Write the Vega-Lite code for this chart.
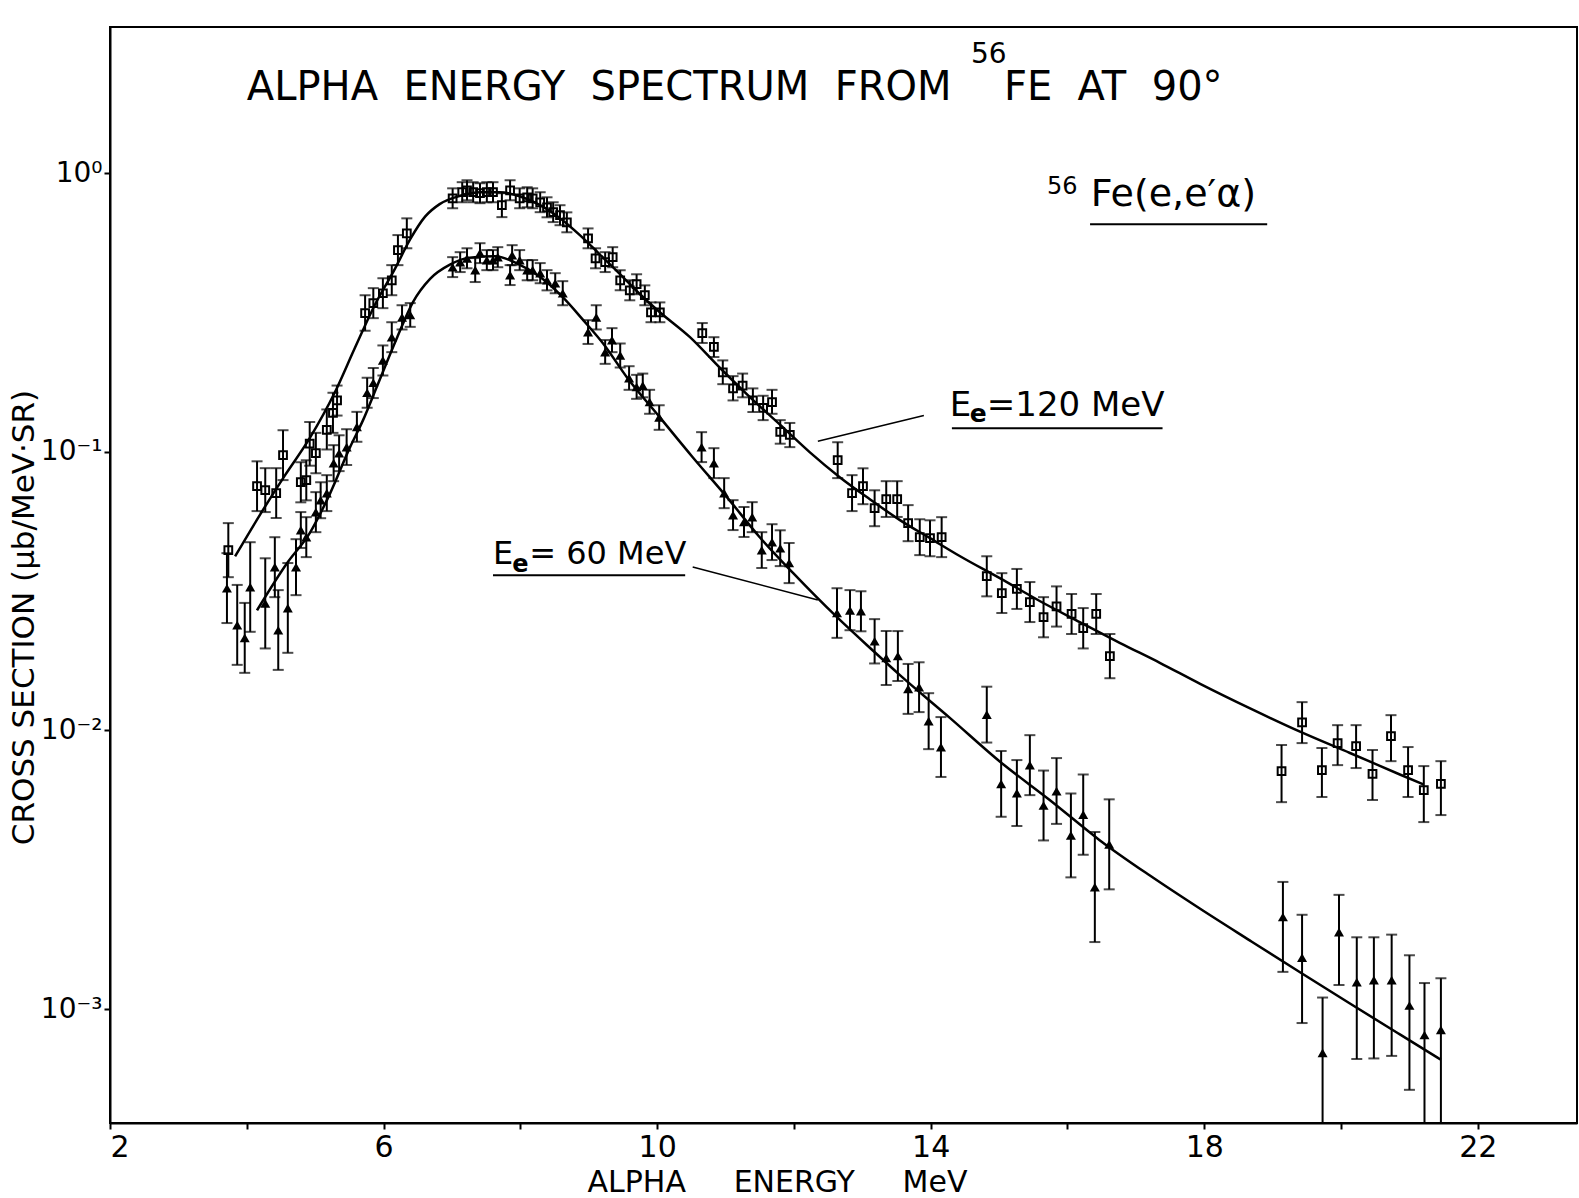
{
  "$schema": "https://vega.github.io/schema/vega-lite/v6.json",
  "width": 1467,
  "height": 1096,
  "autosize": {"type": "none"},
  "padding": {"left": 110, "top": 27, "right": 2, "bottom": 75},
  "background": "white",
  "config": {
    "view": {"stroke": "black", "strokeWidth": 2},
    "font": "DejaVu Sans",
    "axis": {"domainColor": "black", "domainWidth": 2, "tickColor": "black", "tickWidth": 2, "grid": false, "labelColor": "black", "titleColor": "black", "labelFont": "DejaVu Sans", "titleFont": "DejaVu Sans", "titleFontWeight": "normal"}
  },
  "datasets": {
    "pts": [
      {"beam":"120","E":3.73,"xs":0.0444,"lo":0.0355,"hi":0.0555},
      {"beam":"120","E":4.15,"xs":0.0753,"lo":0.0613,"hi":0.0925},
      {"beam":"120","E":4.27,"xs":0.0729,"lo":0.0608,"hi":0.0874},
      {"beam":"120","E":4.43,"xs":0.0711,"lo":0.0579,"hi":0.0874},
      {"beam":"120","E":4.53,"xs":0.0973,"lo":0.0792,"hi":0.1196},
      {"beam":"120","E":4.79,"xs":0.0778,"lo":0.0659,"hi":0.0918},
      {"beam":"120","E":4.87,"xs":0.0791,"lo":0.067,"hi":0.0933},
      {"beam":"120","E":4.92,"xs":0.107,"lo":0.0892,"hi":0.128},
      {"beam":"120","E":5.01,"xs":0.0989,"lo":0.0838,"hi":0.117},
      {"beam":"120","E":5.17,"xs":0.12,"lo":0.102,"hi":0.142},
      {"beam":"120","E":5.26,"xs":0.138,"lo":0.117,"hi":0.163},
      {"beam":"120","E":5.32,"xs":0.153,"lo":0.135,"hi":0.173},
      {"beam":"120","E":5.73,"xs":0.315,"lo":0.272,"hi":0.365},
      {"beam":"120","E":5.85,"xs":0.342,"lo":0.302,"hi":0.387},
      {"beam":"120","E":5.99,"xs":0.371,"lo":0.328,"hi":0.42},
      {"beam":"120","E":6.12,"xs":0.413,"lo":0.365,"hi":0.468},
      {"beam":"120","E":6.21,"xs":0.53,"lo":0.468,"hi":0.6},
      {"beam":"120","E":6.34,"xs":0.609,"lo":0.538,"hi":0.689},
      {"beam":"120","E":7.01,"xs":0.813,"lo":0.749,"hi":0.883},
      {"beam":"120","E":7.15,"xs":0.855,"lo":0.787,"hi":0.929},
      {"beam":"120","E":7.22,"xs":0.869,"lo":0.8,"hi":0.944},
      {"beam":"120","E":7.31,"xs":0.855,"lo":0.787,"hi":0.929},
      {"beam":"120","E":7.41,"xs":0.848,"lo":0.781,"hi":0.921},
      {"beam":"120","E":7.51,"xs":0.855,"lo":0.787,"hi":0.929},
      {"beam":"120","E":7.6,"xs":0.855,"lo":0.787,"hi":0.929},
      {"beam":"120","E":7.73,"xs":0.768,"lo":0.696,"hi":0.848},
      {"beam":"120","E":7.85,"xs":0.869,"lo":0.8,"hi":0.944},
      {"beam":"120","E":7.99,"xs":0.813,"lo":0.749,"hi":0.883},
      {"beam":"120","E":8.1,"xs":0.82,"lo":0.755,"hi":0.891},
      {"beam":"120","E":8.18,"xs":0.813,"lo":0.749,"hi":0.883},
      {"beam":"120","E":8.29,"xs":0.787,"lo":0.725,"hi":0.855},
      {"beam":"120","E":8.39,"xs":0.755,"lo":0.695,"hi":0.82},
      {"beam":"120","E":8.48,"xs":0.725,"lo":0.668,"hi":0.787},
      {"beam":"120","E":8.58,"xs":0.707,"lo":0.651,"hi":0.768},
      {"beam":"120","E":8.68,"xs":0.667,"lo":0.614,"hi":0.724},
      {"beam":"120","E":8.99,"xs":0.584,"lo":0.538,"hi":0.634},
      {"beam":"120","E":9.1,"xs":0.495,"lo":0.456,"hi":0.538},
      {"beam":"120","E":9.24,"xs":0.48,"lo":0.442,"hi":0.521},
      {"beam":"120","E":9.35,"xs":0.5,"lo":0.46,"hi":0.543},
      {"beam":"120","E":9.46,"xs":0.413,"lo":0.38,"hi":0.449},
      {"beam":"120","E":9.6,"xs":0.38,"lo":0.35,"hi":0.413},
      {"beam":"120","E":9.7,"xs":0.4,"lo":0.368,"hi":0.434},
      {"beam":"120","E":9.82,"xs":0.365,"lo":0.336,"hi":0.396},
      {"beam":"120","E":9.91,"xs":0.317,"lo":0.292,"hi":0.344},
      {"beam":"120","E":10.04,"xs":0.317,"lo":0.292,"hi":0.344},
      {"beam":"120","E":10.66,"xs":0.267,"lo":0.246,"hi":0.29},
      {"beam":"120","E":10.83,"xs":0.238,"lo":0.219,"hi":0.258},
      {"beam":"120","E":10.96,"xs":0.193,"lo":0.175,"hi":0.213},
      {"beam":"120","E":11.11,"xs":0.169,"lo":0.153,"hi":0.187},
      {"beam":"120","E":11.25,"xs":0.173,"lo":0.157,"hi":0.191},
      {"beam":"120","E":11.4,"xs":0.153,"lo":0.139,"hi":0.169},
      {"beam":"120","E":11.55,"xs":0.144,"lo":0.13,"hi":0.159},
      {"beam":"120","E":11.68,"xs":0.151,"lo":0.137,"hi":0.167},
      {"beam":"120","E":11.8,"xs":0.118,"lo":0.107,"hi":0.13},
      {"beam":"120","E":11.94,"xs":0.115,"lo":0.104,"hi":0.127},
      {"beam":"120","E":12.64,"xs":0.0934,"lo":0.0805,"hi":0.1083},
      {"beam":"120","E":12.85,"xs":0.0711,"lo":0.0613,"hi":0.0825},
      {"beam":"120","E":13.01,"xs":0.0753,"lo":0.0649,"hi":0.0873},
      {"beam":"120","E":13.18,"xs":0.0628,"lo":0.0541,"hi":0.0728},
      {"beam":"120","E":13.35,"xs":0.0677,"lo":0.0584,"hi":0.0785},
      {"beam":"120","E":13.51,"xs":0.0677,"lo":0.0584,"hi":0.0785},
      {"beam":"120","E":13.67,"xs":0.0555,"lo":0.0478,"hi":0.0644},
      {"beam":"120","E":13.84,"xs":0.0494,"lo":0.0426,"hi":0.0573},
      {"beam":"120","E":13.99,"xs":0.049,"lo":0.0422,"hi":0.0568},
      {"beam":"120","E":14.16,"xs":0.0494,"lo":0.0419,"hi":0.0583},
      {"beam":"120","E":14.82,"xs":0.0358,"lo":0.0303,"hi":0.0422},
      {"beam":"120","E":15.04,"xs":0.0311,"lo":0.0264,"hi":0.0367},
      {"beam":"120","E":15.26,"xs":0.0322,"lo":0.0273,"hi":0.038},
      {"beam":"120","E":15.45,"xs":0.0289,"lo":0.0245,"hi":0.0341},
      {"beam":"120","E":15.65,"xs":0.0255,"lo":0.0216,"hi":0.0301},
      {"beam":"120","E":15.84,"xs":0.0279,"lo":0.0236,"hi":0.0329},
      {"beam":"120","E":16.06,"xs":0.0262,"lo":0.0222,"hi":0.0309},
      {"beam":"120","E":16.23,"xs":0.0233,"lo":0.0197,"hi":0.0275},
      {"beam":"120","E":16.42,"xs":0.0262,"lo":0.0222,"hi":0.0309},
      {"beam":"120","E":16.62,"xs":0.0185,"lo":0.0154,"hi":0.0222},
      {"beam":"120","E":19.13,"xs":0.00715,"lo":0.00553,"hi":0.00887},
      {"beam":"120","E":19.43,"xs":0.0107,"lo":0.00901,"hi":0.01264},
      {"beam":"120","E":19.72,"xs":0.00721,"lo":0.00577,"hi":0.00865},
      {"beam":"120","E":19.95,"xs":0.00901,"lo":0.00751,"hi":0.01045},
      {"beam":"120","E":20.22,"xs":0.00879,"lo":0.00733,"hi":0.01045},
      {"beam":"120","E":20.46,"xs":0.00698,"lo":0.00563,"hi":0.00851},
      {"beam":"120","E":20.73,"xs":0.00955,"lo":0.00776,"hi":0.01135},
      {"beam":"120","E":20.98,"xs":0.00721,"lo":0.00577,"hi":0.00872},
      {"beam":"120","E":21.21,"xs":0.00611,"lo":0.00469,"hi":0.00745},
      {"beam":"120","E":21.46,"xs":0.00643,"lo":0.00497,"hi":0.00776},
      {"beam":"60","E":3.71,"xs":0.0324,"lo":0.0243,"hi":0.0433},
      {"beam":"60","E":3.86,"xs":0.0239,"lo":0.0172,"hi":0.0333},
      {"beam":"60","E":3.97,"xs":0.0215,"lo":0.0161,"hi":0.0287},
      {"beam":"60","E":4.05,"xs":0.0327,"lo":0.0226,"hi":0.0474},
      {"beam":"60","E":4.27,"xs":0.0286,"lo":0.0197,"hi":0.0415},
      {"beam":"60","E":4.41,"xs":0.0386,"lo":0.0301,"hi":0.0494},
      {"beam":"60","E":4.46,"xs":0.0229,"lo":0.0165,"hi":0.0319},
      {"beam":"60","E":4.6,"xs":0.0275,"lo":0.019,"hi":0.0399},
      {"beam":"60","E":4.72,"xs":0.0386,"lo":0.0306,"hi":0.0486},
      {"beam":"60","E":4.79,"xs":0.0524,"lo":0.0452,"hi":0.0608},
      {"beam":"60","E":4.87,"xs":0.0494,"lo":0.0419,"hi":0.0583},
      {"beam":"60","E":5.01,"xs":0.0608,"lo":0.0515,"hi":0.0717},
      {"beam":"60","E":5.08,"xs":0.0671,"lo":0.0578,"hi":0.0778},
      {"beam":"60","E":5.17,"xs":0.0711,"lo":0.0613,"hi":0.0825},
      {"beam":"60","E":5.27,"xs":0.0911,"lo":0.0785,"hi":0.1057},
      {"beam":"60","E":5.35,"xs":0.0989,"lo":0.0853,"hi":0.1147},
      {"beam":"60","E":5.46,"xs":0.104,"lo":0.0897,"hi":0.1206},
      {"beam":"60","E":5.61,"xs":0.123,"lo":0.1087,"hi":0.1392},
      {"beam":"60","E":5.76,"xs":0.163,"lo":0.144,"hi":0.1845},
      {"beam":"60","E":5.85,"xs":0.177,"lo":0.156,"hi":0.2},
      {"beam":"60","E":5.99,"xs":0.213,"lo":0.188,"hi":0.241},
      {"beam":"60","E":6.12,"xs":0.258,"lo":0.228,"hi":0.292},
      {"beam":"60","E":6.27,"xs":0.304,"lo":0.275,"hi":0.336},
      {"beam":"60","E":6.39,"xs":0.31,"lo":0.281,"hi":0.342},
      {"beam":"60","E":7.01,"xs":0.46,"lo":0.424,"hi":0.5},
      {"beam":"60","E":7.12,"xs":0.48,"lo":0.442,"hi":0.521},
      {"beam":"60","E":7.22,"xs":0.495,"lo":0.456,"hi":0.538},
      {"beam":"60","E":7.34,"xs":0.449,"lo":0.407,"hi":0.496},
      {"beam":"60","E":7.41,"xs":0.517,"lo":0.476,"hi":0.561},
      {"beam":"60","E":7.51,"xs":0.488,"lo":0.449,"hi":0.53},
      {"beam":"60","E":7.6,"xs":0.488,"lo":0.449,"hi":0.53},
      {"beam":"60","E":7.67,"xs":0.5,"lo":0.46,"hi":0.543},
      {"beam":"60","E":7.85,"xs":0.431,"lo":0.397,"hi":0.468},
      {"beam":"60","E":7.88,"xs":0.508,"lo":0.468,"hi":0.552},
      {"beam":"60","E":7.99,"xs":0.488,"lo":0.449,"hi":0.53},
      {"beam":"60","E":8.1,"xs":0.449,"lo":0.413,"hi":0.488},
      {"beam":"60","E":8.18,"xs":0.449,"lo":0.413,"hi":0.488},
      {"beam":"60","E":8.29,"xs":0.438,"lo":0.403,"hi":0.476},
      {"beam":"60","E":8.39,"xs":0.413,"lo":0.38,"hi":0.449},
      {"beam":"60","E":8.51,"xs":0.403,"lo":0.371,"hi":0.438},
      {"beam":"60","E":8.62,"xs":0.371,"lo":0.336,"hi":0.41},
      {"beam":"60","E":8.99,"xs":0.269,"lo":0.244,"hi":0.297},
      {"beam":"60","E":9.11,"xs":0.304,"lo":0.275,"hi":0.336},
      {"beam":"60","E":9.24,"xs":0.228,"lo":0.207,"hi":0.252},
      {"beam":"60","E":9.34,"xs":0.252,"lo":0.228,"hi":0.278},
      {"beam":"60","E":9.46,"xs":0.222,"lo":0.201,"hi":0.245},
      {"beam":"60","E":9.59,"xs":0.184,"lo":0.167,"hi":0.203},
      {"beam":"60","E":9.7,"xs":0.171,"lo":0.155,"hi":0.189},
      {"beam":"60","E":9.79,"xs":0.173,"lo":0.157,"hi":0.191},
      {"beam":"60","E":9.89,"xs":0.151,"lo":0.137,"hi":0.167},
      {"beam":"60","E":10.03,"xs":0.133,"lo":0.12,"hi":0.147},
      {"beam":"60","E":10.65,"xs":0.104,"lo":0.0919,"hi":0.1177},
      {"beam":"60","E":10.83,"xs":0.0911,"lo":0.0805,"hi":0.1031},
      {"beam":"60","E":10.98,"xs":0.0711,"lo":0.0628,"hi":0.0805},
      {"beam":"60","E":11.11,"xs":0.0593,"lo":0.0524,"hi":0.0671},
      {"beam":"60","E":11.27,"xs":0.056,"lo":0.0495,"hi":0.0634},
      {"beam":"60","E":11.39,"xs":0.0583,"lo":0.0515,"hi":0.066},
      {"beam":"60","E":11.53,"xs":0.0444,"lo":0.0383,"hi":0.0515},
      {"beam":"60","E":11.68,"xs":0.0474,"lo":0.0409,"hi":0.055},
      {"beam":"60","E":11.8,"xs":0.0451,"lo":0.0389,"hi":0.0523},
      {"beam":"60","E":11.93,"xs":0.0399,"lo":0.0338,"hi":0.0471},
      {"beam":"60","E":12.63,"xs":0.0264,"lo":0.0215,"hi":0.0324},
      {"beam":"60","E":12.82,"xs":0.027,"lo":0.0229,"hi":0.0319},
      {"beam":"60","E":12.98,"xs":0.0268,"lo":0.0227,"hi":0.0316},
      {"beam":"60","E":13.18,"xs":0.0209,"lo":0.0174,"hi":0.0251},
      {"beam":"60","E":13.35,"xs":0.0182,"lo":0.01456,"hi":0.02275},
      {"beam":"60","E":13.52,"xs":0.0185,"lo":0.01505,"hi":0.02274},
      {"beam":"60","E":13.67,"xs":0.0141,"lo":0.01147,"hi":0.01733},
      {"beam":"60","E":13.83,"xs":0.0143,"lo":0.01164,"hi":0.01757},
      {"beam":"60","E":13.97,"xs":0.0108,"lo":0.00857,"hi":0.01361},
      {"beam":"60","E":14.15,"xs":0.00872,"lo":0.00681,"hi":0.01117},
      {"beam":"60","E":14.82,"xs":0.0114,"lo":0.00905,"hi":0.01436},
      {"beam":"60","E":15.03,"xs":0.00643,"lo":0.0049,"hi":0.00844},
      {"beam":"60","E":15.26,"xs":0.00596,"lo":0.00454,"hi":0.00783},
      {"beam":"60","E":15.45,"xs":0.00751,"lo":0.00586,"hi":0.00962},
      {"beam":"60","E":15.65,"xs":0.00538,"lo":0.00403,"hi":0.00718},
      {"beam":"60","E":15.84,"xs":0.00606,"lo":0.00462,"hi":0.00796},
      {"beam":"60","E":16.05,"xs":0.0042,"lo":0.00297,"hi":0.00594},
      {"beam":"60","E":16.23,"xs":0.00499,"lo":0.00358,"hi":0.00695},
      {"beam":"60","E":16.4,"xs":0.00274,"lo":0.00174,"hi":0.00432},
      {"beam":"60","E":16.61,"xs":0.0039,"lo":0.00269,"hi":0.00566},
      {"beam":"60","E":19.15,"xs":0.00214,"lo":0.00136,"hi":0.00286},
      {"beam":"60","E":19.43,"xs":0.00153,"lo":0.000891,"hi":0.00218},
      {"beam":"60","E":19.73,"xs":0.000696,"lo":0.0003,"hi":0.0011},
      {"beam":"60","E":19.97,"xs":0.00189,"lo":0.00122,"hi":0.00257},
      {"beam":"60","E":20.23,"xs":0.00125,"lo":0.000662,"hi":0.00181},
      {"beam":"60","E":20.48,"xs":0.00127,"lo":0.000665,"hi":0.00181},
      {"beam":"60","E":20.74,"xs":0.00127,"lo":0.000679,"hi":0.00185},
      {"beam":"60","E":21.0,"xs":0.00103,"lo":0.000513,"hi":0.00156},
      {"beam":"60","E":21.22,"xs":0.000807,"lo":0.0003,"hi":0.00124},
      {"beam":"60","E":21.46,"xs":0.000842,"lo":0.0003,"hi":0.00129}
    ],
    "curves": [
      {"beam":"120","E":3.83,"xs":0.0422},
      {"beam":"120","E":4.19,"xs":0.0593},
      {"beam":"120","E":4.56,"xs":0.0825},
      {"beam":"120","E":4.92,"xs":0.112},
      {"beam":"120","E":5.29,"xs":0.164},
      {"beam":"120","E":5.58,"xs":0.236},
      {"beam":"120","E":5.87,"xs":0.336},
      {"beam":"120","E":6.17,"xs":0.456},
      {"beam":"120","E":6.39,"xs":0.58},
      {"beam":"120","E":6.61,"xs":0.7},
      {"beam":"120","E":6.82,"xs":0.775},
      {"beam":"120","E":7.12,"xs":0.83},
      {"beam":"120","E":7.41,"xs":0.855},
      {"beam":"120","E":7.7,"xs":0.855},
      {"beam":"120","E":7.99,"xs":0.827},
      {"beam":"120","E":8.29,"xs":0.768},
      {"beam":"120","E":8.58,"xs":0.69},
      {"beam":"120","E":8.87,"xs":0.6},
      {"beam":"120","E":9.16,"xs":0.512},
      {"beam":"120","E":9.46,"xs":0.434},
      {"beam":"120","E":9.75,"xs":0.368},
      {"beam":"120","E":10.04,"xs":0.317},
      {"beam":"120","E":10.48,"xs":0.258},
      {"beam":"120","E":10.92,"xs":0.2},
      {"beam":"120","E":11.36,"xs":0.157},
      {"beam":"120","E":11.8,"xs":0.125},
      {"beam":"120","E":12.23,"xs":0.0998},
      {"beam":"120","E":12.67,"xs":0.0811},
      {"beam":"120","E":13.11,"xs":0.0676},
      {"beam":"120","E":13.55,"xs":0.0569},
      {"beam":"120","E":13.99,"xs":0.049},
      {"beam":"120","E":14.43,"xs":0.0422},
      {"beam":"120","E":15.01,"xs":0.0352},
      {"beam":"120","E":15.6,"xs":0.0291},
      {"beam":"120","E":16.18,"xs":0.0245},
      {"beam":"120","E":16.77,"xs":0.0206},
      {"beam":"120","E":17.35,"xs":0.0175},
      {"beam":"120","E":17.94,"xs":0.0147},
      {"beam":"120","E":18.67,"xs":0.012},
      {"beam":"120","E":19.4,"xs":0.0099},
      {"beam":"120","E":20.13,"xs":0.0083},
      {"beam":"120","E":20.86,"xs":0.00695},
      {"beam":"120","E":21.21,"xs":0.0064},
      {"beam":"60","E":4.15,"xs":0.027},
      {"beam":"60","E":4.59,"xs":0.0399},
      {"beam":"60","E":4.92,"xs":0.0511},
      {"beam":"60","E":5.22,"xs":0.0711},
      {"beam":"60","E":5.51,"xs":0.104},
      {"beam":"60","E":5.7,"xs":0.13},
      {"beam":"60","E":5.9,"xs":0.171},
      {"beam":"60","E":6.2,"xs":0.258},
      {"beam":"60","E":6.43,"xs":0.345},
      {"beam":"60","E":6.68,"xs":0.418},
      {"beam":"60","E":6.97,"xs":0.47},
      {"beam":"60","E":7.26,"xs":0.498},
      {"beam":"60","E":7.63,"xs":0.504},
      {"beam":"60","E":7.95,"xs":0.475},
      {"beam":"60","E":8.29,"xs":0.424},
      {"beam":"60","E":8.62,"xs":0.359},
      {"beam":"60","E":8.92,"xs":0.297},
      {"beam":"60","E":9.21,"xs":0.245},
      {"beam":"60","E":9.56,"xs":0.185},
      {"beam":"60","E":10.04,"xs":0.133},
      {"beam":"60","E":10.52,"xs":0.0957},
      {"beam":"60","E":11.02,"xs":0.0688},
      {"beam":"60","E":11.5,"xs":0.0494},
      {"beam":"60","E":11.99,"xs":0.0367},
      {"beam":"60","E":12.63,"xs":0.0255},
      {"beam":"60","E":13.15,"xs":0.0194},
      {"beam":"60","E":13.55,"xs":0.0158},
      {"beam":"60","E":14.28,"xs":0.0111},
      {"beam":"60","E":15.01,"xs":0.00774},
      {"beam":"60","E":15.74,"xs":0.00563},
      {"beam":"60","E":16.47,"xs":0.00404},
      {"beam":"60","E":17.2,"xs":0.00302},
      {"beam":"60","E":17.94,"xs":0.00229},
      {"beam":"60","E":18.67,"xs":0.00176},
      {"beam":"60","E":19.4,"xs":0.001355},
      {"beam":"60","E":20.13,"xs":0.001047},
      {"beam":"60","E":20.86,"xs":0.000811},
      {"beam":"60","E":21.46,"xs":0.000658}
    ]
  },
  "layer": [
    {
      "data": {"name": "curves"},
      "mark": {"type": "line", "color": "black", "strokeWidth": 2.5, "interpolate": "monotone"},
      "encoding": {
        "x": {"field": "E", "type": "quantitative", "title": "ALPHA\u00a0\u00a0\u00a0\u00a0\u00a0ENERGY\u00a0\u00a0\u00a0\u00a0\u00a0MeV",
          "scale": {"domain": [2, 23.45], "nice": false, "zero": false},
          "axis": {"values": [2, 4, 6, 8, 10, 12, 14, 16, 18, 20, 22], "format": "d", "labelExpr": "datum.value % 4 == 2 ? datum.label : ''", "tickSize": 6, "labelFontSize": 30, "labelPadding": 3, "titleFontSize": 30, "titleX": 667, "titleY": 68, "titleBaseline": "alphabetic", "titleAlign": "center"}},
        "y": {"field": "xs", "type": "quantitative", "title": "CROSS SECTION (μb/MeV·SR)",
          "scale": {"type": "log", "domain": [0.00039, 3.35], "nice": false},
          "axis": {"values": [1, 0.1, 0.01, 0.001], "labelExpr": "datum.value > 0.5 ? '10⁰' : datum.value > 0.05 ? '10⁻¹' : datum.value > 0.005 ? '10⁻²' : '10⁻³'", "tickSize": 6, "labelFontSize": 28, "labelPadding": 2, "titleFontSize": 31, "titleX": -77, "titleY": 590, "titleAngle": 270, "titleAlign": "center", "titleBaseline": "alphabetic"}},
        "detail": {"field": "beam"}
      }
    },
    {
      "data": {"name": "pts"},
      "mark": {"type": "errorbar", "color": "black", "thickness": 2, "size": 11, "ticks": true, "clip": true},
      "encoding": {
        "x": {"field": "E", "type": "quantitative", "title": "ALPHA\u00a0\u00a0\u00a0\u00a0\u00a0ENERGY\u00a0\u00a0\u00a0\u00a0\u00a0MeV"},
        "y": {"field": "lo", "type": "quantitative", "title": "CROSS SECTION (μb/MeV·SR)"},
        "y2": {"field": "hi"}
      }
    },
    {
      "data": {"name": "pts"},
      "transform": [{"filter": "datum.beam == '120'"}],
      "mark": {"type": "point", "shape": "square", "filled": false, "color": "black", "strokeWidth": 2, "size": 60, "opacity": 1},
      "encoding": {
        "x": {"field": "E", "type": "quantitative", "title": "ALPHA\u00a0\u00a0\u00a0\u00a0\u00a0ENERGY\u00a0\u00a0\u00a0\u00a0\u00a0MeV"},
        "y": {"field": "xs", "type": "quantitative", "title": "CROSS SECTION (μb/MeV·SR)"}
      }
    },
    {
      "data": {"name": "pts"},
      "transform": [{"filter": "datum.beam == '60'"}],
      "mark": {"type": "point", "shape": "triangle-up", "filled": true, "color": "black", "size": 100, "opacity": 1},
      "encoding": {
        "x": {"field": "E", "type": "quantitative", "title": "ALPHA\u00a0\u00a0\u00a0\u00a0\u00a0ENERGY\u00a0\u00a0\u00a0\u00a0\u00a0MeV"},
        "y": {"field": "xs", "type": "quantitative", "title": "CROSS SECTION (μb/MeV·SR)"}
      }
    },
    {
      "data": {"values": [{}]},
      "mark": {"type": "text", "align": "left", "baseline": "alphabetic", "fontSize": 40, "color": "black"},
      "encoding": {"x": {"datum": 4.0}, "y": {"datum": 1.83}, "text": {"value": "ALPHA\u00a0\u00a0ENERGY\u00a0\u00a0SPECTRUM\u00a0\u00a0FROM"}}
    },
    {
      "data": {"values": [{}]},
      "mark": {"type": "text", "align": "center", "baseline": "alphabetic", "fontSize": 28, "color": "black"},
      "encoding": {"x": {"datum": 14.85}, "y": {"datum": 2.48}, "text": {"value": "56"}}
    },
    {
      "data": {"values": [{}]},
      "mark": {"type": "text", "align": "left", "baseline": "alphabetic", "fontSize": 40, "color": "black"},
      "encoding": {"x": {"datum": 15.07}, "y": {"datum": 1.83}, "text": {"value": "FE\u00a0\u00a0AT\u00a0\u00a090°"}}
    },
    {
      "data": {"values": [{}]},
      "mark": {"type": "text", "align": "left", "baseline": "alphabetic", "fontSize": 24, "color": "black"},
      "encoding": {"x": {"datum": 15.7}, "y": {"datum": 0.841}, "text": {"value": "56"}}
    },
    {
      "data": {"values": [{}]},
      "mark": {"type": "text", "align": "left", "baseline": "alphabetic", "fontSize": 38, "color": "black"},
      "encoding": {"x": {"datum": 16.34}, "y": {"datum": 0.762}, "text": {"value": "Fe(e,e′α)"}}
    },
    {
      "data": {"values": [{}]},
      "mark": {"type": "rule", "color": "black", "strokeWidth": 2},
      "encoding": {"x": {"datum": 16.33}, "x2": {"datum": 18.92}, "y": {"datum": 0.656}}
    },
    {
      "data": {"values": [{}]},
      "mark": {"type": "text", "align": "left", "baseline": "alphabetic", "fontSize": 34, "color": "black"},
      "encoding": {"x": {"datum": 14.28}, "y": {"datum": 0.135}, "text": {"value": "E"}}
    },
    {
      "data": {"values": [{}]},
      "mark": {"type": "text", "align": "left", "baseline": "alphabetic", "fontSize": 25, "fontWeight": "bold", "color": "black"},
      "encoding": {"x": {"datum": 14.57}, "y": {"datum": 0.128}, "text": {"value": "e"}}
    },
    {
      "data": {"values": [{}]},
      "mark": {"type": "text", "align": "left", "baseline": "alphabetic", "fontSize": 34, "color": "black"},
      "encoding": {"x": {"datum": 14.82}, "y": {"datum": 0.135}, "text": {"value": "=120 MeV"}}
    },
    {
      "data": {"values": [{}]},
      "mark": {"type": "rule", "color": "black", "strokeWidth": 2},
      "encoding": {"x": {"datum": 14.31}, "x2": {"datum": 17.39}, "y": {"datum": 0.1216}}
    },
    {
      "data": {"values": [{}]},
      "mark": {"type": "rule", "color": "black", "strokeWidth": 1.5},
      "encoding": {"x": {"datum": 13.9}, "y": {"datum": 0.135}, "x2": {"datum": 12.35}, "y2": {"datum": 0.1092}}
    },
    {
      "data": {"values": [{}]},
      "mark": {"type": "text", "align": "left", "baseline": "alphabetic", "fontSize": 32, "color": "black"},
      "encoding": {"x": {"datum": 7.6}, "y": {"datum": 0.0395}, "text": {"value": "E"}}
    },
    {
      "data": {"values": [{}]},
      "mark": {"type": "text", "align": "left", "baseline": "alphabetic", "fontSize": 24, "fontWeight": "bold", "color": "black"},
      "encoding": {"x": {"datum": 7.88}, "y": {"datum": 0.0372}, "text": {"value": "e"}}
    },
    {
      "data": {"values": [{}]},
      "mark": {"type": "text", "align": "left", "baseline": "alphabetic", "fontSize": 32, "color": "black"},
      "encoding": {"x": {"datum": 8.13}, "y": {"datum": 0.0395}, "text": {"value": "= 60 MeV"}}
    },
    {
      "data": {"values": [{}]},
      "mark": {"type": "rule", "color": "black", "strokeWidth": 2},
      "encoding": {"x": {"datum": 7.6}, "x2": {"datum": 10.41}, "y": {"datum": 0.0361}}
    },
    {
      "data": {"values": [{}]},
      "mark": {"type": "rule", "color": "black", "strokeWidth": 1.5},
      "encoding": {"x": {"datum": 10.52}, "y": {"datum": 0.0386}, "x2": {"datum": 12.35}, "y2": {"datum": 0.0294}}
    }
  ]
}
